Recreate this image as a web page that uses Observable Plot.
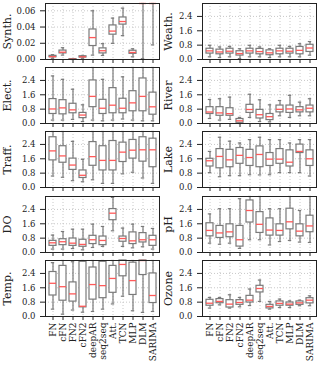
<!DOCTYPE html>
<html><head><meta charset="utf-8">
<script src="https://cdn.jsdelivr.net/npm/d3@7"></script>
<script src="https://cdn.jsdelivr.net/npm/@observablehq/plot@0.6"></script>
<style>
body{margin:0;background:#fff}
#c{position:relative;width:320px;height:370px;overflow:hidden}
#c svg{position:absolute;overflow:visible}
#c g[aria-label="x-axis tick label"]{font-size:9px}
</style>
</head><body><div id="c"></div>
<script>
const models = ["FN","cFN","FN2","cFN2","deepAR","seq2seq","Att.","TCN","MLP","DLM","SARIMA"];
const ticksMain = [0, 0.8, 1.6, 2.4];
const ticksSynth = [0, 0.02, 0.04, 0.06];
// each row: [whisker low, q1, median, q3, whisker high]
const synth = [[0.0015,0.0028,0.0035,0.0045,0.006],[0.0054,0.0075,0.009,0.011,0.0145],[0.0,0.0001,0.0003,0.0005,0.0008],[0.0015,0.0025,0.0033,0.004,0.005],[0.0054,0.0166,0.027,0.037,0.060],[0.005,0.0075,0.0108,0.0137,0.0195],[0.0199,0.0306,0.035,0.042,0.051],[0.0294,0.043,0.0468,0.0518,0.0633],[0.0033,0.007,0.0087,0.0108,0.0132],[0.001,0.09,0.12,0.15,0.2],[0.018,0.08,0.11,0.14,0.2]];
const weath = [[0.15,0.33,0.48,0.60,0.79],[0.11,0.29,0.42,0.55,0.70],[0.15,0.33,0.46,0.60,0.73],[0.05,0.22,0.33,0.46,0.60],[0.15,0.33,0.48,0.60,0.79],[0.15,0.29,0.44,0.59,0.70],[0.11,0.24,0.37,0.51,0.60],[0.15,0.29,0.48,0.60,0.79],[0.15,0.33,0.46,0.60,0.73],[0.15,0.29,0.51,0.70,0.88],[0.24,0.42,0.64,0.82,1.0]];
const elect = [[0.19,0.53,0.81,1.36,2.65],[0.19,0.51,0.87,1.30,2.46],[0.23,0.57,0.76,1.10,1.91],[0.11,0.30,0.47,0.59,1.04],[0.19,0.91,1.51,2.40,3.5],[0.15,0.53,0.85,1.32,2.46],[0.19,0.57,1.02,1.97,3.4],[0.25,0.57,0.85,1.38,2.6],[0.19,0.68,1.15,1.80,3.5],[0.15,0.68,1.51,2.51,3.6],[0.15,0.49,0.93,1.72,3.5]];
const river = [[0.28,0.53,0.64,0.91,1.34],[0.19,0.43,0.59,0.91,1.38],[0.23,0.43,0.55,0.85,1.47],[0.0,0.04,0.15,0.25,0.34],[0.34,0.59,0.78,1.04,1.63],[0.11,0.28,0.49,0.76,1.32],[0.09,0.19,0.38,0.53,1.04],[0.43,0.62,0.79,1.0,1.28],[0.34,0.59,0.81,1.0,1.57],[0.43,0.62,0.76,0.91,1.19],[0.43,0.62,0.85,1.0,1.38]];
const traff = [[0.64,1.51,2.04,2.8,3.4],[0.57,1.38,1.76,2.3,3.3],[0.38,0.98,1.25,1.61,2.57],[0.32,0.53,0.68,0.95,1.57],[0.43,1.21,1.72,2.53,3.4],[0.23,0.95,1.51,2.3,3.3],[0.23,0.95,1.51,2.59,3.4],[0.76,1.42,1.97,2.5,3.3],[0.85,1.61,2.08,2.65,3.5],[0.53,1.44,2.1,2.8,3.5],[0.23,1.13,2.1,2.72,3.5]];
const lake = [[0.83,1.17,1.49,1.60,2.01],[0.60,1.07,1.73,2.14,2.8],[0.66,1.13,1.54,2.10,2.58],[0.66,1.32,1.79,2.2,2.48],[0.71,1.2,1.67,2.1,2.67],[0.70,1.13,1.84,2.29,2.8],[0.71,1.2,1.58,1.92,2.67],[0.83,1.32,1.58,2.14,2.67],[0.83,1.17,1.41,2.07,2.48],[0.83,1.92,2.01,2.39,2.67],[0.64,1.2,1.6,2.07,2.67]];
const dox = [[0.19,0.37,0.54,0.65,0.97],[0.19,0.41,0.6,0.74,1.17],[0.22,0.37,0.52,0.78,1.3],[0.15,0.32,0.45,0.71,1.3],[0.28,0.47,0.71,0.93,1.58],[0.34,0.41,0.67,0.89,1.45],[1.21,1.80,2.19,2.42,3.07],[0.34,0.6,0.78,0.89,1.36],[0.26,0.47,0.65,1.12,1.58],[0.32,0.56,0.71,1.08,1.45],[0.19,0.37,0.71,0.93,1.34]];
const ph = [[0.52,0.9,1.23,1.63,2.15],[0.46,0.81,1.09,1.48,2.44],[0.52,0.85,1.15,1.57,2.44],[0.23,0.33,0.71,1.48,3.0],[0.71,1.67,2.34,2.9,3.5],[0.71,1.09,1.57,2.25,3.3],[0.42,0.94,1.25,1.9,2.44],[0.61,0.94,1.23,1.57,2.44],[0.67,1.29,1.71,2.44,3.3],[0.58,0.9,1.19,1.57,2.34],[0.56,1.13,1.48,2.05,3.3]];
const temp = [[0.41,1.17,1.85,2.48,3.0],[0.13,0.88,1.66,2.82,3.3],[0.36,0.83,1.26,1.9,3.05],[0.24,0.51,0.57,3.05,3.4],[0.28,0.94,1.78,2.73,3.4],[0.41,1.02,1.72,3.05,3.4],[0.70,1.32,2.12,2.82,3.4],[1.13,2.24,2.9,3.3,3.6],[0.32,1.2,2.0,3.0,3.5],[0.23,2.31,3.3,3.5,3.7],[0.28,0.75,1.17,2.4,3.3]];
const ozone = [[0.47,0.6,0.74,0.93,1.06],[0.65,0.74,0.84,0.97,1.06],[0.47,0.5,0.69,0.91,1.21],[0.54,0.65,0.78,0.91,1.06],[0.61,0.78,0.91,1.15,1.53],[0.84,1.34,1.56,1.71,2.03],[0.41,0.45,0.56,0.65,0.84],[0.5,0.6,0.73,0.84,0.97],[0.5,0.6,0.69,0.78,0.87],[0.6,0.65,0.76,0.84,0.91],[0.6,0.73,0.91,1.02,1.15]];

const panels = [
  {label:"Synth.", data:synth, col:0, row:0},
  {label:"Weath.", data:weath, col:1, row:0},
  {label:"Elect.", data:elect, col:0, row:1},
  {label:"River",  data:river, col:1, row:1},
  {label:"Traff.", data:traff, col:0, row:2},
  {label:"Lake",   data:lake,  col:1, row:2},
  {label:"DO",     data:dox,   col:0, row:3},
  {label:"pH",     data:ph,    col:1, row:3},
  {label:"Temp.",  data:temp,  col:0, row:4},
  {label:"Ozone",  data:ozone, col:1, row:4}
];

const rowTops = [3, 67, 131, 196, 260];
const PH = 56;
const box = "#7a7a7a", med = "#ff5a5a", grid = "#c8c8c8";
const c = document.getElementById("c");

for (const p of panels) {
  const isSynth = p.label === "Synth.";
  const bottom = p.row === 4;
  const mt = 3, mb = bottom ? (370 - rowTops[4] - PH) : 6;
  const ml = p.col ? 42 : 45, mr = p.col ? 4 : 1;
  const rows = models.map((m, i) => ({model:m, low:p.data[i][0], q1:p.data[i][1], med:p.data[i][2], q3:p.data[i][3], high:p.data[i][4]}));
  const ticks = isSynth ? ticksSynth : ticksMain;
  const bw = (160 - ml - mr) / 11 * 0.7;
  const cap = bw / 4;
  const svg = Plot.plot({
    width: 160, height: mt + PH + mb,
    marginLeft: ml, marginRight: mr, marginTop: mt, marginBottom: mb,
    style: {fontFamily: "DejaVu Serif", fontSize: "8.5px", background: "transparent", color: "#222"},
    x: {type: "band", domain: models, paddingInner: 0.3, paddingOuter: 0.15, label: null, tickSize: 4,
        tickPadding: 2, tickRotate: bottom ? -90 : 0, tickFormat: bottom ? (d => d) : (() => "")},
    y: {domain: isSynth ? [0, 0.069] : [0, 3.12], clamp: true, ticks: ticks, label: null, tickSize: 5, tickPadding: 5,
        tickFormat: d3.format(isSynth ? ".2f" : ".1f")},
    marks: [
      Plot.ruleY(ticks, {stroke: grid, strokeDasharray: "1,2"}),
      Plot.ruleX(models, {stroke: grid, strokeDasharray: "1,2"}),
      Plot.ruleX(rows, {x: "model", y1: "low", y2: "high", stroke: box, strokeWidth: 1.2}),
      Plot.tickY(rows, {x: "model", y: "low", insetLeft: cap, insetRight: cap, stroke: box, strokeWidth: 1.2}),
      Plot.tickY(rows, {x: "model", y: "high", insetLeft: cap, insetRight: cap, stroke: box, strokeWidth: 1.2}),
      Plot.barY(rows, {x: "model", y1: "q1", y2: "q3", fill: "white", stroke: box, strokeWidth: 1.2}),
      Plot.tickY(rows, {x: "model", y: "med", stroke: med, strokeWidth: 1.3}),
      Plot.frame({stroke: "#222", strokeWidth: 1}),
      Plot.text([p.label], {frameAnchor: "left", textAnchor: "middle", lineAnchor: "middle", rotate: -90,
        dx: p.col ? -34 : -38, fontSize: 11, fill: "#222"})
    ]
  });
  svg.style.left = (p.col ? 160 : 0) + "px";
  svg.style.top = (rowTops[p.row] - mt) + "px";
  c.appendChild(svg);
}
</script>
</body></html>
